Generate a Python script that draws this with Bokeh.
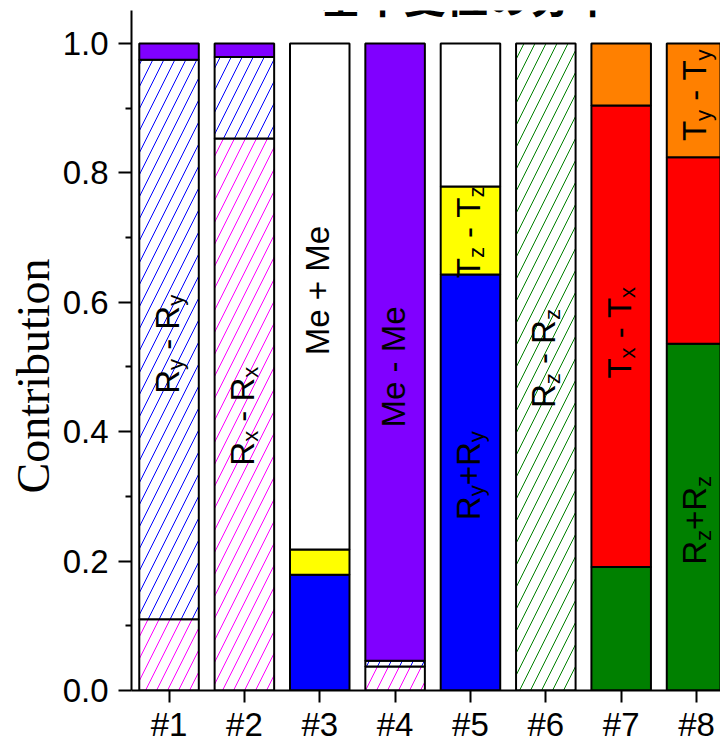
import math
from bokeh.plotting import figure
from bokeh.models import (ColumnDataSource, FixedTicker, PrintfTickFormatter, Label, Range1d,
                          Title)
from bokeh.core.properties import value
from bokeh.embed import file_html
from bokeh.resources import INLINE

# ---------------- data ----------------
bars = ["#1", "#2", "#3", "#4", "#5", "#6", "#7", "#8"]

# stacked contributions (bottom -> top order)
rx_rx   = [0.110, 0.853, 0.000, 0.037, 0.000, 0.000, 0.000, 0.000]   # Rx - Rx (hatched magenta)
ry_ry   = [0.865, 0.126, 0.000, 0.009, 0.000, 0.000, 0.000, 0.000]   # Ry - Ry (hatched blue)
ry_p_ry = [0.000, 0.000, 0.179, 0.000, 0.643, 0.000, 0.000, 0.000]   # Ry+Ry (blue)
tz_tz   = [0.000, 0.000, 0.039, 0.000, 0.136, 0.000, 0.000, 0.000]   # Tz - Tz (yellow)
rz_rz   = [0.000, 0.000, 0.000, 0.000, 0.000, 1.000, 0.000, 0.000]   # Rz - Rz (hatched green)
rz_p_rz = [0.000, 0.000, 0.000, 0.000, 0.000, 0.000, 0.191, 0.536]   # Rz+Rz (green)
tx_tx   = [0.000, 0.000, 0.000, 0.000, 0.000, 0.000, 0.713, 0.288]   # Tx - Tx (red)
ty_ty   = [0.000, 0.000, 0.000, 0.000, 0.000, 0.000, 0.096, 0.176]   # Ty - Ty (orange)
me_me   = [0.025, 0.021, 0.000, 0.954, 0.000, 0.000, 0.000, 0.000]   # Me - Me (purple)
me_p_me = [0.000, 0.000, 0.782, 0.000, 0.221, 0.000, 0.000, 0.000]   # Me + Me (white)

y_major = [0.0, 0.2, 0.4, 0.6, 0.8, 1.0]
y_minor = [0.1, 0.3, 0.5, 0.7, 0.9]

# in-bar labels ("_" marks the next character as subscript)
label_bar  = [1, 2, 3, 4, 5, 5, 6, 7, 8, 8]
label_y    = [0.535, 0.424, 0.618, 0.500, 0.332, 0.708, 0.513, 0.553, 0.920, 0.263]
label_text = ["R_y - R_y", "R_x - R_x", "Me + Me", "Me - Me", "R_y+R_y",
              "T_z - T_z", "R_z - R_z", "T_x - T_x", "T_y - T_y", "R_z+R_z"]

title_text = "基準変位の分率"
y_title = "Contribution"

# ---------------- styles ----------------
HATCH = dict(hatch_pattern="/", hatch_scale=22, hatch_weight=1, hatch_alpha=1.0)

series = [
    (rx_rx,   dict(fill_color="white", hatch_color="#FF00FF", **HATCH)),
    (ry_ry,   dict(fill_color="white", hatch_color="#0000FF", **HATCH)),
    (ry_p_ry, dict(fill_color="#0000FF")),
    (tz_tz,   dict(fill_color="#FFFF00")),
    (rz_rz,   dict(fill_color="white", hatch_color="#008000", **HATCH)),
    (rz_p_rz, dict(fill_color="#008000")),
    (tx_tx,   dict(fill_color="#FF0000")),
    (ty_ty,   dict(fill_color="#FF8000")),
    (me_me,   dict(fill_color="#8000FF")),
    (me_p_me, dict(fill_color="white")),
]

ARIAL = "Liberation Sans"

p = figure(width=720, height=745, output_backend="svg", toolbar_location=None,
           x_range=Range1d(0.502, 8.318), y_range=Range1d(0, 1.051),
           min_border_left=131, min_border_right=0, min_border_top=10, min_border_bottom=55)
p.outline_line_color = None
p.grid.visible = False
p.background_fill_color = "white"

xs = list(range(1, len(bars) + 1))
cum = [0.0] * len(bars)
for vals, style in series:
    idx = [i for i, v in enumerate(vals) if v > 0]
    src = ColumnDataSource(dict(
        x=[xs[i] for i in idx],
        bottom=[cum[i] for i in idx],
        top=[cum[i] + vals[i] for i in idx],
    ))
    for i in idx:
        cum[i] += vals[i]
    p.vbar(x="x", bottom="bottom", top="top", width=0.79, source=src,
           line_color="black", line_width=2, **style)

# ---------------- in-bar rotated labels with subscripts ----------------
WID = {'R': .722, 'y': .5, 'x': .5, 'z': .5, 'T': .611, 'M': .833, 'e': .556,
       ' ': .278, '-': .333, '+': .584}
MAIN, SUB = 33, 22
MAIN_DX, SUB_DX = -2, 6.5

lx, ly, lt, lsz, lxo, lyo = [], [], [], [], [], []
for b, yc, s in zip(label_bar, label_y, label_text):
    runs = []
    i = 0
    while i < len(s):
        if s[i] == "_":
            runs.append((s[i + 1], True))
            i += 2
        else:
            if runs and not runs[-1][1]:
                runs[-1] = (runs[-1][0] + s[i], False)
            else:
                runs.append((s[i], False))
            i += 1
    widths = [sum(WID[c] for c in t) * (SUB if sub else MAIN) for t, sub in runs]
    total = sum(widths)
    c = 0.0
    for (t, sub), w in zip(runs, widths):
        lx.append(b)
        ly.append(yc)
        lt.append(t.replace(" ", "\u00a0"))
        lsz.append(f"{SUB if sub else MAIN}px")
        lxo.append(SUB_DX if sub else MAIN_DX)
        lyo.append(total / 2 - c)
        c += w

lsrc = ColumnDataSource(dict(x=lx, y=ly, text=lt, size=lsz, xo=lxo, yo=lyo))
p.text(x="x", y="y", text="text", source=lsrc, angle=math.pi / 2,
       text_font=value(ARIAL), text_font_size="size", x_offset="xo", y_offset="yo",
       text_align="left", text_baseline="alphabetic", text_color="black")

# ---------------- axes ----------------
p.xaxis.ticker = FixedTicker(ticks=xs)
p.xaxis.major_label_overrides = {x: b for x, b in zip(xs, bars)}
p.xaxis.minor_tick_line_color = None
p.xaxis.major_tick_in = 0
p.xaxis.major_tick_out = 12
p.xaxis.axis_line_width = 2
p.xaxis.major_tick_line_width = 2
p.xaxis.major_label_text_font = ARIAL
p.xaxis.major_label_text_font_size = "33px"
p.xaxis.major_label_text_color = "black"
p.xaxis.major_label_standoff = 3

p.yaxis.ticker = FixedTicker(ticks=y_major, minor_ticks=y_minor)
p.yaxis.formatter = PrintfTickFormatter(format="%.1f")
p.yaxis.major_tick_in = 0
p.yaxis.major_tick_out = 13
p.yaxis.minor_tick_in = 0
p.yaxis.minor_tick_out = 6
p.yaxis.axis_line_width = 2
p.yaxis.major_tick_line_width = 2
p.yaxis.minor_tick_line_width = 2
p.yaxis.major_label_text_font = ARIAL
p.yaxis.major_label_text_font_size = "33px"
p.yaxis.major_label_text_color = "black"
p.yaxis.major_label_standoff = 10

# y axis title as a side title so that it can sit below the frame centre
p.add_layout(Title(text=y_title, align="left", offset=197, standoff=2,
                   text_font="Liberation Serif", text_font_size="46px",
                   text_font_style="normal", text_color="black"), "left")

# title (partly outside the top of the canvas, as in the reference)
p.add_layout(Label(x=4.95, y=1.0755, text=title_text, text_font="Noto Sans CJK JP",
                   text_font_size="42px", text_font_style="bold", text_align="center",
                   text_baseline="alphabetic", text_color="black"))

open("out.html", "w").write(file_html(p, INLINE))
